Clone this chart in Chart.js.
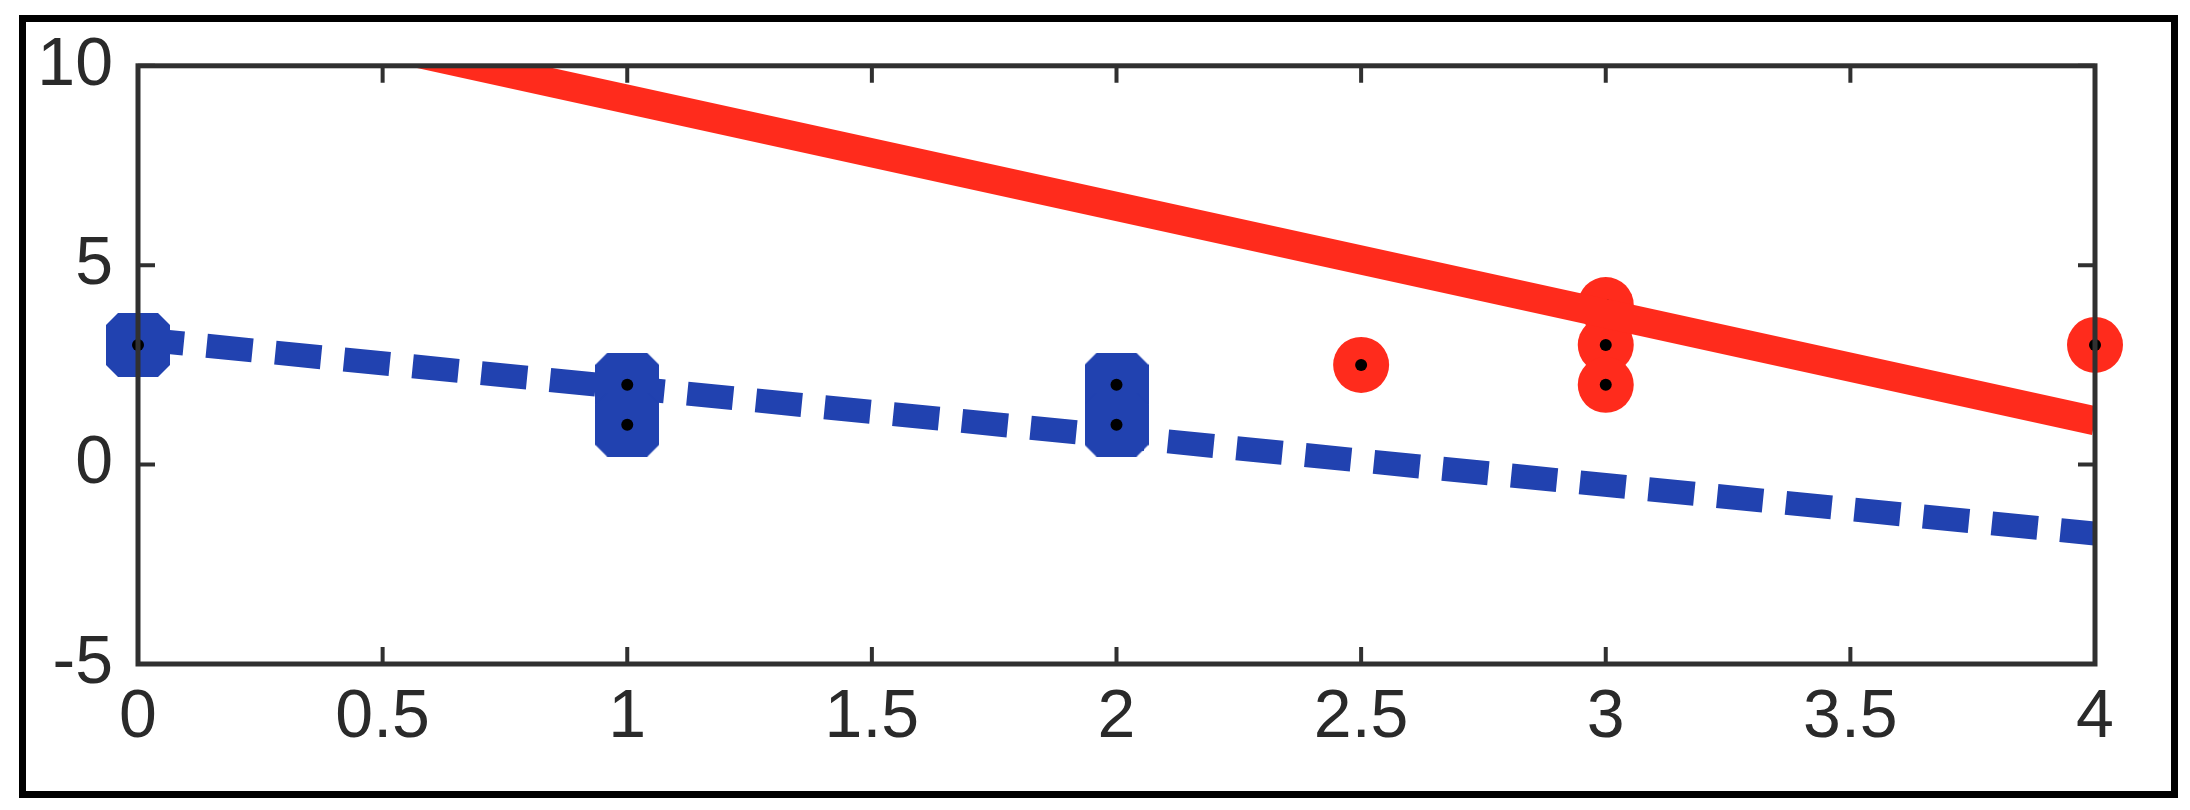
<!DOCTYPE html>
<html><head><meta charset="utf-8">
<script src="https://cdn.jsdelivr.net/npm/chart.js@4"></script>
<style>
html,body{margin:0;padding:0;background:#fff;width:2190px;height:810px;overflow:hidden}
#frame{position:absolute;left:19px;top:15px;width:2159px;height:783px;box-sizing:border-box;border:7px solid #000}
#c{position:absolute;left:0;top:0}
</style></head><body>
<div id="frame"></div>
<canvas id="c" width="2190" height="810"></canvas>
<script>
// ---- data ----
const xTickValues = [0, 0.5, 1, 1.5, 2, 2.5, 3, 3.5, 4];
const xTickLabels = ['0', '0.5', '1', '1.5', '2', '2.5', '3', '3.5', '4'];
const yTickValues = [-5, 0, 5, 10];
const yTickLabels = ['-5', '0', '5', '10'];

const blueX = [0, 1, 1, 2, 2];
const blueY = [3, 2, 1, 2, 1];
const redX = [2.5, 3, 3, 3, 4];
const redY = [2.5, 4, 3, 2, 3];

const redLineX = [0, 4];
const redLineY = [11.85, 1.1];
const blueLineX = [0, 4];
const blueLineY = [3.15, -1.73];

// ---- styles ----
const BLUE = '#2142b0';
const RED = '#ff2b1c';
const AXIS = '#303030';
const FONT = { family: '"Liberation Sans", Arial, sans-serif', size: 68 };

function pts(xs, ys) { return xs.map((v, i) => ({ x: v, y: ys[i] })); }

function blueMarker() {
  const s = 64, k = 12;
  const c = document.createElement('canvas');
  c.width = s; c.height = s;
  const g = c.getContext('2d');
  g.fillStyle = BLUE;
  g.beginPath();
  g.moveTo(k, 0); g.lineTo(s - k, 0); g.lineTo(s, k); g.lineTo(s, s - k);
  g.lineTo(s - k, s); g.lineTo(k, s); g.lineTo(0, s - k); g.lineTo(0, k);
  g.closePath();
  g.fill();
  return c;
}

const TL = 17;
const axesBox = {
  id: 'axesBox',
  afterDatasetsDraw(chart) {
    const { ctx, chartArea: a, scales: { x, y } } = chart;
    ctx.save();
    ctx.strokeStyle = AXIS;
    ctx.lineWidth = 4;
    ctx.beginPath();
    xTickValues.forEach(v => {
      const p = x.getPixelForValue(v);
      ctx.moveTo(p, a.bottom); ctx.lineTo(p, a.bottom - TL);
      ctx.moveTo(p, a.top); ctx.lineTo(p, a.top + TL);
    });
    yTickValues.forEach(v => {
      const p = y.getPixelForValue(v);
      ctx.moveTo(a.left, p); ctx.lineTo(a.left + TL, p);
      ctx.moveTo(a.right, p); ctx.lineTo(a.right - TL, p);
    });
    ctx.stroke();
    ctx.lineWidth = 5;
    ctx.strokeRect(a.left, a.top, a.right - a.left, a.bottom - a.top);
    ctx.restore();
  }
};

new Chart(document.getElementById('c'), {
  type: 'scatter',
  data: {
    datasets: [
      { label: 'red line', data: pts(redLineX, redLineY), showLine: true, pointRadius: 0,
        borderColor: RED, borderWidth: 29, borderCapStyle: 'butt', clip: 0, order: 0 },
      { label: 'points', data: pts(blueX.concat(redX), blueY.concat(redY)), pointRadius: 6,
        pointBackgroundColor: '#000', pointBorderWidth: 0, clip: false, order: 1 },
      { label: 'red', data: pts(redX, redY), pointRadius: 28, pointBackgroundColor: RED,
        pointBorderWidth: 0, clip: false, order: 2 },
      { label: 'blue', data: pts(blueX, blueY), pointRadius: 32, pointStyle: blueMarker(),
        pointBorderWidth: 0, clip: false, order: 3 },
      { label: 'blue line', data: pts(blueLineX, blueLineY), showLine: true, pointRadius: 0,
        borderColor: BLUE, borderWidth: 24, borderDash: [46, 23], borderCapStyle: 'butt', clip: 0, order: 4 }
    ]
  },
  options: {
    responsive: false,
    animation: false,
    devicePixelRatio: 1,
    events: [],
    layout: { padding: { left: 0, right: 95, top: 61, bottom: 0 } },
    plugins: { legend: { display: false }, tooltip: { enabled: false }, title: { display: false } },
    scales: {
      x: {
        type: 'linear', min: 0, max: 4,
        afterBuildTicks: s => { s.ticks = xTickValues.map(v => ({ value: v })); },
        afterFit: s => { s.height = 146; },
        ticks: { callback: v => xTickLabels[xTickValues.indexOf(v)], font: FONT, color: '#2a2a2a',
                 padding: 13, maxRotation: 0, autoSkip: false },
        grid: { display: false, drawTicks: false },
        border: { display: false }
      },
      y: {
        type: 'linear', min: -5, max: 10,
        afterBuildTicks: s => { s.ticks = yTickValues.map(v => ({ value: v })); },
        afterFit: s => { s.width = 138; },
        ticks: { callback: v => yTickLabels[yTickValues.indexOf(v)], font: FONT, color: '#2a2a2a',
                 padding: 25, autoSkip: false },
        grid: { display: false, drawTicks: false },
        border: { display: false }
      }
    }
  },
  plugins: [axesBox]
});
</script>
</body></html>
